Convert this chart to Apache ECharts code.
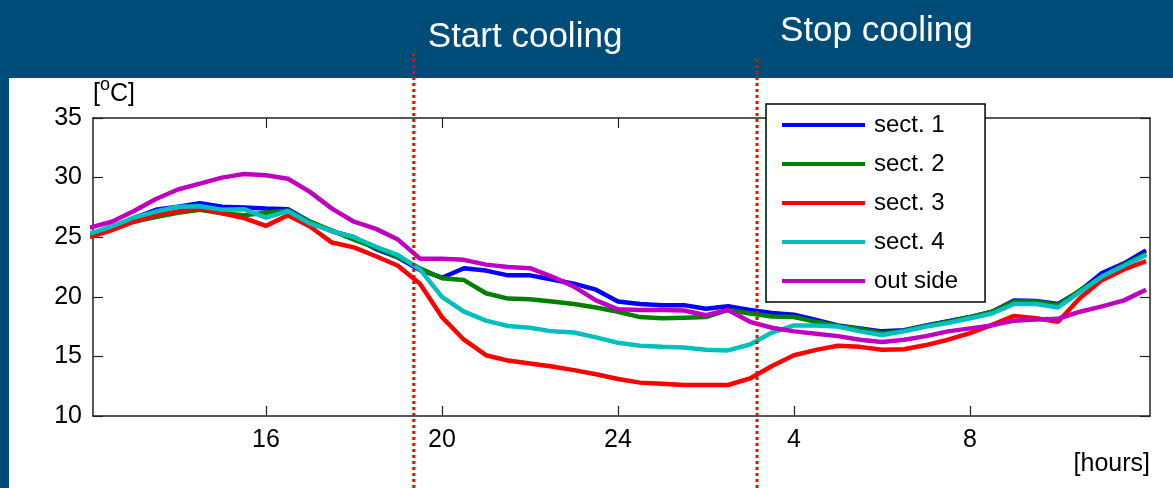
<!DOCTYPE html>
<html><head><meta charset="utf-8">
<script src="https://cdn.jsdelivr.net/npm/echarts@6/dist/echarts.min.js"></script>
<style>
html,body{margin:0;padding:0;background:#004c78;overflow:hidden;}
#panel{position:absolute;left:9px;top:78px;width:1164px;height:410px;background:#fff;}
#chart{position:absolute;left:0;top:0;width:1173px;height:488px;}
</style></head><body>
<div id="panel"></div><div id="chart"></div>
<script>
const hours = [12,12.5,13,13.5,14,14.5,15,15.5,16,16.5,17,17.5,18,18.5,19,19.5,20,20.5,21,21.5,22,22.5,23,23.5,24,24.5,25,25.5,26,26.5,27,27.5,28,28.5,29,29.5,30,30.5,31,31.5,32,32.5,33,33.5,34,34.5,35,35.5,36];
const sect1 = [25.2,25.7,26.6,27.3,27.55,27.85,27.55,27.5,27.4,27.35,26.3,25.5,25.0,24.0,23.3,22.25,21.6,22.4,22.2,21.8,21.8,21.45,21.1,20.6,19.6,19.4,19.3,19.3,19.0,19.2,18.9,18.65,18.5,18.05,17.6,17.35,17.1,17.2,17.6,17.95,18.3,18.75,19.7,19.65,19.4,20.5,22.0,22.8,23.9];
const sect2 = [25.2,25.7,26.3,26.7,27.05,27.3,27.0,26.85,27.05,27.25,26.3,25.55,24.8,24.1,23.35,22.4,21.55,21.4,20.3,19.85,19.8,19.6,19.4,19.1,18.75,18.3,18.2,18.25,18.3,18.9,18.6,18.35,18.3,17.9,17.55,17.3,16.95,17.15,17.55,17.9,18.3,18.75,19.6,19.6,19.3,20.55,21.7,22.7,23.6];
const sect3 = [25.0,25.6,26.3,26.85,27.15,27.4,27.0,26.6,25.95,26.85,25.9,24.55,24.15,23.4,22.6,21.1,18.3,16.4,15.1,14.65,14.4,14.15,13.85,13.5,13.1,12.8,12.7,12.6,12.6,12.6,13.15,14.2,15.1,15.55,15.9,15.8,15.55,15.6,15.95,16.4,16.95,17.65,18.4,18.2,17.9,19.9,21.4,22.3,23.0];
const sect4 = [25.3,25.9,26.65,27.15,27.55,27.6,27.3,27.35,26.65,27.2,26.15,25.5,25.0,24.2,23.5,22.3,20.0,18.75,18.0,17.55,17.4,17.1,17.0,16.6,16.15,15.9,15.8,15.75,15.55,15.5,16.0,17.0,17.6,17.6,17.5,17.1,16.8,17.1,17.5,17.8,18.2,18.6,19.4,19.4,19.1,20.4,21.7,22.6,23.5];
const outside = [25.8,26.3,27.2,28.2,29.0,29.5,30.0,30.3,30.2,29.9,28.8,27.4,26.3,25.7,24.8,23.2,23.2,23.1,22.7,22.5,22.4,21.7,20.85,19.7,18.95,18.9,18.9,18.85,18.45,18.9,17.9,17.4,17.1,16.9,16.7,16.4,16.2,16.4,16.7,17.1,17.35,17.6,18.0,18.1,18.15,18.75,19.2,19.7,20.6];
const seriesNames = ['sect. 1','sect. 2','sect. 3','sect. 4','out side'];
const seriesColors = ['#0000ff','#008000','#ff0000','#00bfbf','#bf00bf'];
const tickHours = [16,20,24,28,32];
const tickLabels = ['16','20','24','4','8'];
const startCooling = 19.36;
const stopCooling = 27.16;
const annotations = ['Start cooling','Stop cooling'];

const FONT = 'Liberation Sans, Arial, sans-serif';
const chart = echarts.init(document.getElementById('chart'), null, {renderer:'canvas'});
const allSeries = [sect1, sect2, sect3, sect4, outside];
const axisLine = {show:true, lineStyle:{color:'#222', width:1.5}};
const tick = {show:true, inside:true, length:10, lineStyle:{color:'#222', width:1.2}};
chart.setOption({
  animation:false,
  backgroundColor:'transparent',
  grid:{left:93, right:23, top:118, bottom:72, containLabel:false},
  xAxis:[{
    type:'value', min:12.07, max:36.09, position:'bottom',
    axisLine, axisTick:Object.assign({customValues:tickHours}, tick),
    splitLine:{show:false},
    axisLabel:{customValues:tickHours, color:'#000', fontSize:25, fontFamily:FONT, margin:12,
      formatter:v=>tickLabels[tickHours.indexOf(v)]},
    name:'[hours]', nameLocation:'end', nameGap:0,
    nameTextStyle:{color:'#000', fontSize:25, fontFamily:FONT, align:'right', verticalAlign:'top', padding:[36,0,0,0]}
  },{
    type:'value', min:12.07, max:36.09, position:'top',
    axisLine, axisTick:Object.assign({customValues:tickHours}, tick),
    splitLine:{show:false}, axisLabel:{show:false}
  }],
  yAxis:[{
    type:'value', min:10, max:35, interval:5, position:'left',
    axisLine, axisTick:tick, splitLine:{show:false},
    axisLabel:{color:'#000', fontSize:25, fontFamily:FONT, margin:11},
    name:'[{s|o}C]', nameLocation:'end', nameGap:6,
    nameTextStyle:{color:'#000', fontSize:25, lineHeight:36, fontFamily:FONT, align:'left', verticalAlign:'bottom',
      rich:{s:{fontSize:18, lineHeight:18, verticalAlign:'top', fontFamily:FONT, color:'#000'}}}
  },{
    type:'value', min:10, max:35, interval:5, position:'right',
    axisLine, axisTick:tick, splitLine:{show:false}, axisLabel:{show:false}
  }],
  legend:{
    orient:'vertical', left:766, top:104,
    icon:'rect', itemWidth:83, itemHeight:4, itemGap:15,
    padding:[9,27,9,16],
    borderColor:'#000', borderWidth:1.5, backgroundColor:'#fff',
    textStyle:{color:'#000', fontSize:24, lineHeight:24, fontFamily:FONT, padding:[0,0,0,4]},
    data:seriesNames
  },
  series: allSeries.map((vals,i)=>({
    name:seriesNames[i], type:'line', symbol:'none', showSymbol:false,
    data: hours.map((h,j)=>[h, vals[j]]),
    lineStyle:{color:seriesColors[i], width:4.5}, itemStyle:{color:seriesColors[i]},
    emphasis:{disabled:true}
  }))
});
const xs = chart.convertToPixel({xAxisIndex:0}, startCooling);
const xe = chart.convertToPixel({xAxisIndex:0}, stopCooling);
chart.setOption({
  graphic:[
    {type:'line', z:100, shape:{x1:xs, y1:53, x2:xs, y2:488}, style:{stroke:'#ff0000', lineWidth:3, lineDash:[3,3]}},
    {type:'line', z:100, shape:{x1:xe, y1:59, x2:xe, y2:488}, style:{stroke:'#ff0000', lineWidth:3, lineDash:[3,3]}},
    {type:'text', z:100, x:xs+14, y:37, style:{text:annotations[0], fill:'#fff', font:'35px '+FONT, verticalAlign:'middle'}},
    {type:'text', z:100, x:xe+23, y:31, style:{text:annotations[1], fill:'#fff', font:'35px '+FONT, verticalAlign:'middle'}}
  ]
});
</script></body></html>
